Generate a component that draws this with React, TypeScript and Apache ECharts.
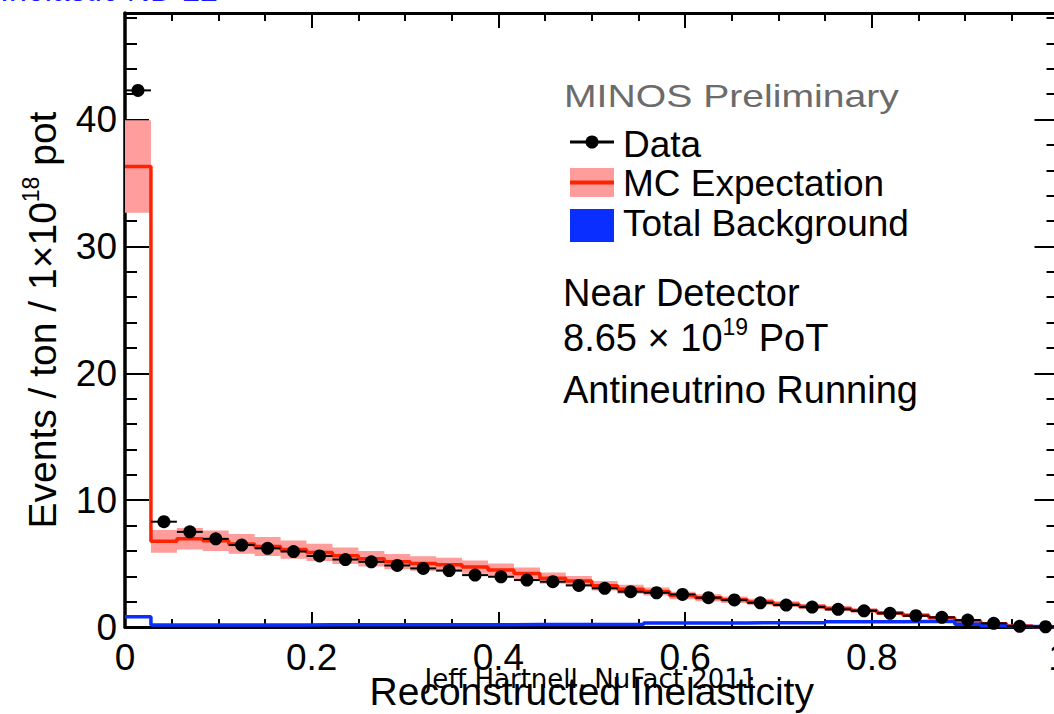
import React, { useEffect, useRef } from "react";
import * as echarts from "echarts";

// ---- data ----
const X_MIN = 0;
const X_MAX = 1;
const N_BINS = 36;

const dataValues = [
  42.3, 8.3, 7.5, 6.95, 6.46, 6.2, 5.95, 5.6, 5.32, 5.14, 4.85, 4.62,
  4.45, 4.09, 3.96, 3.7, 3.57, 3.28, 3.05, 2.78, 2.7, 2.57, 2.31, 2.13,
  1.91, 1.73, 1.57, 1.39, 1.28, 1.08, 0.89, 0.76, 0.55, 0.29, 0.05, 0.02,
];
const mcValues = [
  36.3, 6.75, 6.95, 6.8, 6.55, 6.35, 6.1, 5.88, 5.62, 5.38, 5.15, 5.0,
  4.9, 4.72, 4.5, 4.22, 3.85, 3.62, 3.25, 2.98, 2.8, 2.48, 2.3, 2.15,
  1.98, 1.8, 1.62, 1.45, 1.3, 1.1, 0.92, 0.72, 0.48, 0.25, 0.08, 0.02,
];
const mcErr = [
  3.65, 0.9, 0.85, 0.8, 0.78, 0.75, 0.72, 0.68, 0.65, 0.62, 0.6, 0.57,
  0.55, 0.52, 0.5, 0.47, 0.44, 0.41, 0.38, 0.35, 0.32, 0.3, 0.28, 0.26,
  0.24, 0.22, 0.2, 0.18, 0.16, 0.14, 0.12, 0.1, 0.08, 0.05, 0.03, 0.01,
];
const bgValues = [
  0.8, 0.15, 0.15, 0.15, 0.16, 0.16, 0.16, 0.17, 0.17, 0.17, 0.17, 0.18,
  0.18, 0.18, 0.18, 0.19, 0.19, 0.2, 0.2, 0.2, 0.32, 0.32, 0.32, 0.32,
  0.33, 0.33, 0.33, 0.42, 0.42, 0.42, 0.43, 0.43, 0.22, 0.1, 0.04, 0.02,
];

const legendLabels = ["Data", "MC Expectation", "Total Background"];
const titleText = "MINOS Preliminary";
const infoLines = ["Near Detector", "8.65 × 10", "Antineutrino Running"];
const xAxisTitle = "Reconstructed Inelasticity";
const creditText = "Jeff Hartnell, NuFact 2011";
const slideTitle = "Inelastic ND 22";

const FONT = "'Liberation Sans', Arial, Helvetica, sans-serif";
const NARROW = "'Liberation Sans Narrow', 'DejaVu Sans Condensed', 'Liberation Sans', sans-serif";
const PINK = "#ff9c9c";
const RED = "#ff2200";
const BLUE = "#0a2eff";

function measure(text: string, size: number, family: string): number {
  const c = document.createElement("canvas").getContext("2d");
  if (!c) return text.length * size * 0.5;
  c.font = `${size}px ${family}`;
  return c.measureText(text).width;
}

export default function App() {
  const ref = useRef<HTMLDivElement>(null);

  useEffect(() => {
    if (!ref.current) return;
    const chart = echarts.init(ref.current, null, { renderer: "svg" });

    const edges = Array.from({ length: N_BINS + 1 }, (_, i) => X_MIN + ((X_MAX - X_MIN) * i) / N_BINS);
    const centers = edges.slice(0, N_BINS).map((e, i) => (e + edges[i + 1]) / 2);

    const mcLine = mcValues.map((v, k) => [edges[k], v]).concat([[edges[N_BINS], mcValues[N_BINS - 1]]]);
    const bgLine = bgValues.map((v, k) => [edges[k], v]).concat([[edges[N_BINS], bgValues[N_BINS - 1]]]);
    const points = dataValues.map((v, k) => [centers[k], v]);
    const bars = dataValues.map((v, k) => [edges[k], edges[k + 1], v]);

    const minosScale = 335 / measure(titleText, 31, FONT);
    const creditScale = 333 / measure(creditText, 27, NARROW);
    const slideScale = 218 / measure(slideTitle, 40, FONT);

    const tickStyle = { color: "#000", width: 2 };
    const axisLine = { show: true, onZero: false, lineStyle: { color: "#000", width: 3 } };

    const option: any = {
      animation: false,
      backgroundColor: "#fff",
      grid: {
        left: 125,
        top: 13,
        right: 5.5,
        bottom: 87,
        containLabel: false,
        outerBoundsMode: "none",
      },
      xAxis: [
        {
          type: "value",
          min: X_MIN,
          max: X_MAX,
          interval: 0.2,
          position: "bottom",
          axisLine,
          axisTick: { show: true, inside: true, length: 15, lineStyle: tickStyle },
          minorTick: { show: true, splitNumber: 4, length: 8, lineStyle: tickStyle },
          splitLine: { show: false },
          axisLabel: { color: "#000", fontSize: 37, fontFamily: FONT, margin: 12 },
          name: xAxisTitle,
          nameLocation: "middle",
          nameGap: 45,
          nameMoveOverlap: false,
          nameTextStyle: { color: "#000", fontSize: 39, fontFamily: FONT },
        },
        {
          type: "value",
          min: X_MIN,
          max: X_MAX,
          interval: 0.2,
          position: "top",
          axisLine,
          axisTick: { show: true, inside: true, length: 15, lineStyle: tickStyle },
          minorTick: { show: true, splitNumber: 4, length: 8, lineStyle: tickStyle },
          splitLine: { show: false },
          axisLabel: { show: false },
        },
      ],
      yAxis: [
        {
          type: "value",
          min: 0,
          max: 48.4,
          interval: 10,
          position: "left",
          axisLine: { show: true, onZero: false, lineStyle: { color: "#000", width: 3.5 } },
          axisTick: { show: true, inside: true, length: 24, lineStyle: tickStyle },
          minorTick: { show: true, splitNumber: 5, length: 12, lineStyle: tickStyle },
          splitLine: { show: false },
          axisLabel: { color: "#000", fontSize: 37, fontFamily: FONT, margin: 8, showMaxLabel: false },
          name: "{a|Events / ton / 1×10}{s|18}{a| pot}",
          nameLocation: "middle",
          nameGap: 60,
          nameMoveOverlap: false,
          nameTextStyle: {
            color: "#000",
            fontFamily: FONT,
            fontSize: 39,
            rich: {
              a: { fontSize: 39, fontFamily: FONT, color: "#000", lineHeight: 46 },
              s: { fontSize: 23, fontFamily: FONT, color: "#000", verticalAlign: "top", lineHeight: 26 },
            },
          },
        },
        {
          type: "value",
          min: 0,
          max: 48.4,
          interval: 10,
          position: "right",
          axisLine: { show: true, onZero: false, lineStyle: { color: "#000", width: 3 } },
          axisTick: { show: true, inside: true, length: 24, lineStyle: tickStyle },
          minorTick: { show: true, splitNumber: 5, length: 12, lineStyle: tickStyle },
          splitLine: { show: false },
          axisLabel: { show: false },
        },
      ],
      series: [
        {
          type: "custom",
          name: "MC band",
          z: 1,
          data: [[0, 0]],
          encode: { x: 0, y: 1 },
          renderItem: (_params: any, api: any) => {
            const upper: number[][] = [];
            const lower: number[][] = [];
            for (let k = 0; k < N_BINS; k++) {
              const hi = mcValues[k] + mcErr[k];
              upper.push(api.coord([edges[k], hi]));
              upper.push(api.coord([edges[k + 1], hi]));
            }
            for (let k = N_BINS - 1; k >= 0; k--) {
              const lo = Math.max(0, mcValues[k] - mcErr[k]);
              lower.push(api.coord([edges[k + 1], lo]));
              lower.push(api.coord([edges[k], lo]));
            }
            return { type: "polygon", shape: { points: upper.concat(lower) }, style: { fill: PINK } };
          },
        },
        {
          type: "line",
          name: "MC Expectation",
          z: 2,
          step: "end",
          showSymbol: false,
          data: mcLine,
          lineStyle: { color: RED, width: 3.5 },
        },
        {
          type: "line",
          name: "Total Background",
          z: 3,
          step: "end",
          showSymbol: false,
          data: bgLine,
          lineStyle: { color: BLUE, width: 3.5 },
        },
        {
          type: "custom",
          name: "Data bars",
          z: 4,
          data: bars,
          encode: { x: [0, 1], y: 2 },
          renderItem: (_params: any, api: any) => {
            const p0 = api.coord([api.value(0), api.value(2)]);
            const p1 = api.coord([api.value(1), api.value(2)]);
            return {
              type: "line",
              shape: { x1: p0[0], y1: p0[1], x2: p1[0], y2: p1[1] },
              style: { stroke: "#000", lineWidth: 2 },
            };
          },
        },
        {
          type: "scatter",
          name: "Data",
          z: 5,
          data: points,
          symbol: "circle",
          symbolSize: 13,
          itemStyle: { color: "#000", opacity: 1 },
        },
      ],
      graphic: [
        {
          type: "text",
          x: 0,
          y: 7,
          scaleX: slideScale,
          style: { text: slideTitle, fontSize: 40, fontFamily: FONT, fill: "#1a1aff", align: "left", verticalAlign: "bottom" },
        },
        {
          type: "text",
          x: 564,
          y: 96,
          scaleX: minosScale,
          style: { text: titleText, fontSize: 31, fontFamily: FONT, fill: "#6b6b6b", align: "left", verticalAlign: "middle" },
        },
        { type: "line", shape: { x1: 570, y1: 142, x2: 614, y2: 142 }, style: { stroke: "#000", lineWidth: 3 } },
        { type: "circle", shape: { cx: 592, cy: 142, r: 6.5 }, style: { fill: "#000" } },
        {
          type: "text",
          x: 623,
          y: 144,
          style: { text: legendLabels[0], fontSize: 37, fontFamily: FONT, fill: "#000", align: "left", verticalAlign: "middle" },
        },
        { type: "rect", shape: { x: 570, y: 168, width: 44, height: 29 }, style: { fill: PINK } },
        { type: "line", shape: { x1: 570, y1: 182.5, x2: 614, y2: 182.5 }, style: { stroke: RED, lineWidth: 4 } },
        {
          type: "text",
          x: 623,
          y: 183,
          style: { text: legendLabels[1], fontSize: 37, fontFamily: FONT, fill: "#000", align: "left", verticalAlign: "middle" },
        },
        { type: "rect", shape: { x: 570, y: 209, width: 44, height: 33 }, style: { fill: BLUE } },
        {
          type: "text",
          x: 623,
          y: 223,
          style: { text: legendLabels[2], fontSize: 37, fontFamily: FONT, fill: "#000", align: "left", verticalAlign: "middle" },
        },
        {
          type: "text",
          x: 563,
          y: 293,
          style: { text: infoLines[0], fontSize: 38, fontFamily: FONT, fill: "#000", align: "left", verticalAlign: "middle" },
        },
        {
          type: "text",
          x: 563,
          y: 338,
          style: {
            text: `{a|${infoLines[1]}}{s|19}{a| PoT}`,
            fontSize: 38,
            fontFamily: FONT,
            fill: "#000",
            align: "left",
            verticalAlign: "middle",
            rich: {
              a: { fontSize: 38, fontFamily: FONT, fill: "#000", lineHeight: 46 },
              s: { fontSize: 23, fontFamily: FONT, fill: "#000", verticalAlign: "top", lineHeight: 26 },
            },
          },
        },
        {
          type: "text",
          x: 563,
          y: 390,
          style: { text: infoLines[2], fontSize: 38, fontFamily: FONT, fill: "#000", align: "left", verticalAlign: "middle" },
        },
        {
          type: "text",
          x: 591,
          y: 679,
          scaleX: creditScale,
          z: 100,
          style: { text: creditText, fontSize: 27, fontFamily: NARROW, fill: "#000", align: "center", verticalAlign: "middle" },
        },
      ],
    };

    chart.setOption(option);
    return () => chart.dispose();
  }, []);

  return (
    <div
      ref={ref}
      style={{ position: "fixed", left: 0, top: 0, width: 1064, height: 714, background: "#fff" }}
    />
  );
}
